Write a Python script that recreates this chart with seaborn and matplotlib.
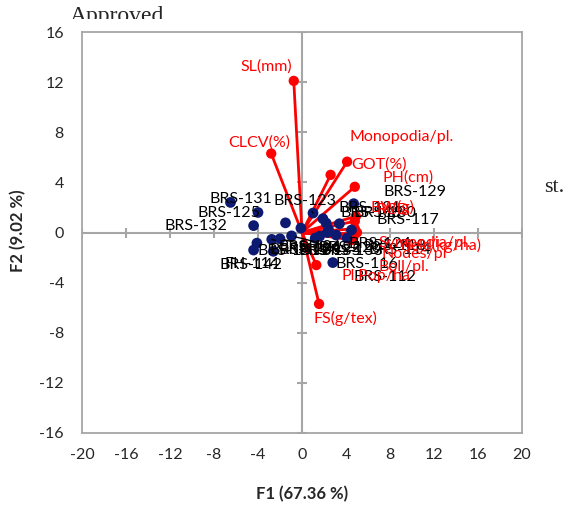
import matplotlib.pyplot as plt
import seaborn as sns
from matplotlib.transforms import Bbox

# variables (red vectors)
var_names = ["SL(mm)", "CLCV(%)", "Monopodia/pl.", "GOT(%)", "PH(cm)", "BW(g)", "RCD",
             "Sympodia/pl.", "Yield(kg/ha)", "Nodes/pl", "Boll/pl.", "Pl.Pop/ha", "FS(g/tex)"]
var_f1 = [-0.75, -2.8, 2.6, 4.1, 4.8, 4.9, 4.8, 4.8, 5.0, 4.7, 4.5, 1.3, 1.55]
var_f2 = [12.1, 6.3, 4.6, 5.65, 3.65, 1.3, 0.9, 0.3, 0.0, -0.3, -0.6, -2.6, -5.7]

# observations (genotypes)
obs_names = ["BRS-131", "BRS-125", "BRS-132", "BRS-127", "BRS-126", "BRS-123", "BRS-121",
             "BRS-130", "BRS-117", "BRS-129", "BRS-124", "BRS-119", "BRS-122", "BRS-120",
             "BRS-118", "BRS-112", "BRS-116", "BRS-141", "BRS-142", "BRS-138", "BRS-135",
             "BRS-133", "FH-114", "BRS-114"]
obs_f1 = [-6.5, -4.0, -4.4, -1.5, -0.1, 1.0, 1.9, 2.2, 3.4, 4.7, 2.3, 2.4, 1.2, 1.6,
          4.5, 4.1, 2.8, -4.1, -4.4, -2.75, -2.0, -0.95, -2.6, 3.1]
obs_f2 = [2.4, 1.6, 0.55, 0.77, 0.35, 1.55, 1.1, 0.75, 0.7, 2.3, 0.0, 0.27, -0.45, -0.3,
          0.2, -0.45, -2.4, -0.85, -1.4, -0.55, -0.5, -0.27, -1.5, -0.2]

x_ticks = list(range(-20, 21, 4))
y_ticks = list(range(-16, 17, 4))

# label placement, pixel offsets from the point
var_off = [(-27, 14), (-12, 11), (71, 38), (32, -3), (53, 9), (37, 9), (38, 11),
           (70, -14), (83, -13), (61, -18), (52, -27), (60, -11), (26, -15)]
obs_off = [(10, 3), (-29, -1), (-58, 0), (15, -27), (9, -19), (-8, 12), (47, 11),
           (59, 10), (68, 4), (61, 12), (53, -12), (44, 16), (15, -10), (30, -12),
           (43, -16), (38, -39), (34, -1), (32, -8), (-3, -15), (38, -11), (50, -12),
           (60, -15), (-21, -13), (64, -15)]
leaders = {"BRS-123", "BRS-138", "BRS-135", "BRS-133"}

sns.set_style("white")
plt.rcParams['font.family'] = ['Lato', 'DejaVu Sans']
plt.rcParams['axes.unicode_minus'] = False

fig = plt.figure(figsize=(5.64, 5.08), dpi=100)
ax = fig.add_axes([82 / 564, 1 - 433 / 508, 440 / 564, 401 / 508])

grey = '#a6a6a6'
ax.axhline(0, color=grey, lw=1.5, zorder=1)
ax.axvline(0, color=grey, lw=1.5, zorder=1)
ax.plot(x_ticks, [0] * len(x_ticks), ls='none', marker='|', ms=7.5, mew=1.5, color=grey, zorder=1)
ax.plot([0] * len(y_ticks), y_ticks, ls='none', marker='_', ms=7.5, mew=1.5, color=grey, zorder=1)

for x, y in zip(var_f1, var_f2):
    ax.plot([0, x], [0, y], color='red', lw=2, zorder=2)
sns.scatterplot(x=var_f1, y=var_f2, color='red', s=55, edgecolor='none', zorder=3, ax=ax)
sns.scatterplot(x=obs_f1, y=obs_f2, color='#0d1a72', s=60, edgecolor='none', zorder=4, ax=ax)

for name, x, y, off in zip(obs_names, obs_f1, obs_f2, obs_off):
    props = dict(arrowstyle='-', color='black', lw=1, shrinkA=0, shrinkB=3) if name in leaders else None
    ax.annotate(name, (x, y), xytext=off, textcoords='offset pixels', ha='center', va='center',
                fontsize=11.5, color='black', arrowprops=props, zorder=5)
for name, x, y, off in zip(var_names, var_f1, var_f2, var_off):
    ax.annotate(name, (x, y), xytext=off, textcoords='offset pixels', ha='center', va='center',
                fontsize=11.5, color='red', zorder=6)

ax.set(xlim=(-20, 20), ylim=(-16, 16), xticks=x_ticks, yticks=y_ticks, xlabel='', ylabel='')
ax.tick_params(length=0, labelsize=11.5)
ax.tick_params(axis='y', pad=13)
ax.tick_params(axis='x', pad=11)
for sp in ax.spines.values():
    sp.set_color(grey)
    sp.set_linewidth(1.3)

fig.text(302 / 564, 1 - 494 / 508, 'F1 (67.36 %)', ha='center', va='center', fontsize=12, weight='bold')
fig.text(18 / 564, 1 - 231 / 508, 'F2 (9.02 %)', ha='center', va='center', fontsize=12,
         weight='bold', rotation=90)

t = fig.text(70 / 564, 1 - 22 / 508, 'Approved', family='Liberation Serif', fontsize=17, va='baseline')
t.set_clip_box(Bbox([[0, 508 - 19], [564, 508]]))
t.set_clip_on(True)
fig.text(544 / 564, 1 - 187 / 508, 'st.', family='Liberation Serif', fontsize=16, va='center')

plt.savefig('out.png', dpi=100)
plt.close()
